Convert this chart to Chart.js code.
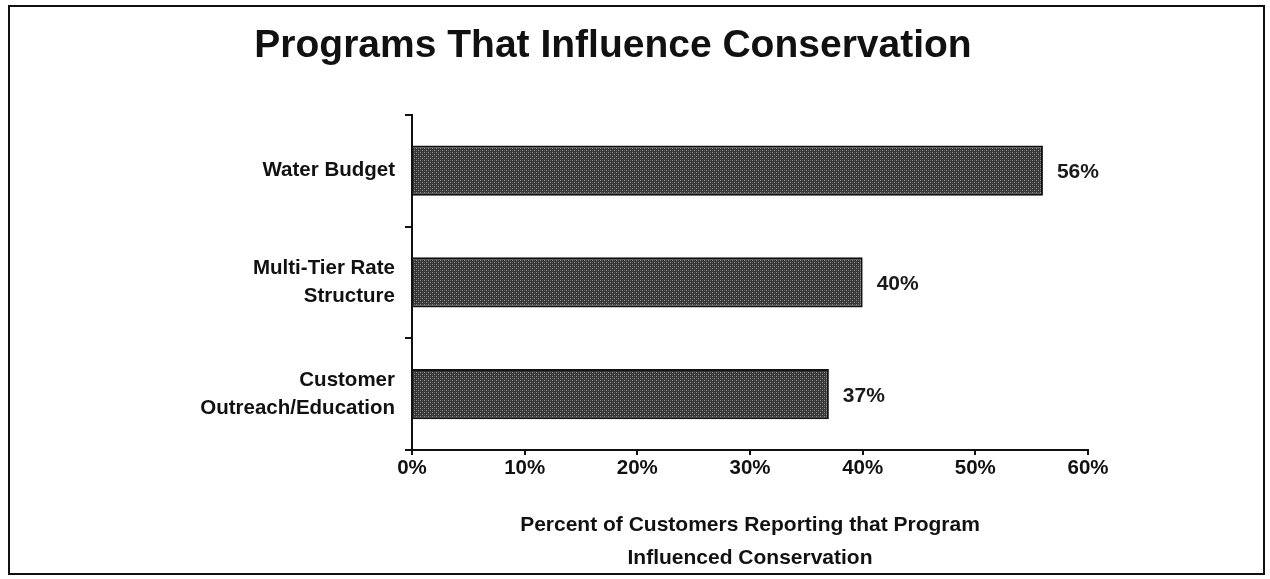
<!DOCTYPE html>
<html>
<head>
<meta charset="utf-8">
<script src="https://cdn.jsdelivr.net/npm/chart.js@4.4.1/dist/chart.umd.min.js"></script>
<style>
  html, body { margin: 0; padding: 0; background: #fff; }
  #wrap { position: relative; width: 1270px; height: 579px; }
  #frame { position: absolute; left: 8px; top: 5px; width: 1253px; height: 566px; border: 2px solid #111; pointer-events: none; }
  canvas { position: absolute; left: 0; top: 0; }
</style>
</head>
<body>
<div id="wrap">
  <canvas id="conservationChart" width="1270" height="579"></canvas>
  <div id="frame"></div>
</div>
<script>
const programs = [['Water Budget'], ['Multi-Tier Rate', 'Structure'], ['Customer', 'Outreach/Education']];
const percentInfluenced = [56, 40, 37];
const xTicks = [0, 10, 20, 30, 40, 50, 60];

const family = 'Arial, "Liberation Sans", sans-serif';
const labelFont = { family, size: 20.5, weight: 'bold' };

// stippled dark grey fill, like the scanned halftone
function stipple() {
  const c = document.createElement('canvas');
  c.width = 4; c.height = 4;
  const g = c.getContext('2d');
  g.fillStyle = '#363636';
  g.fillRect(0, 0, 4, 4);
  g.fillStyle = '#949494';
  g.fillRect(0, 0, 1, 1);
  g.fillRect(2, 2, 1, 1);
  g.fillStyle = '#626262';
  g.fillRect(2, 0, 1, 1);
  g.fillRect(0, 2, 1, 1);
  return g.createPattern(c, 'repeat');
}

const valueLabels = {
  id: 'valueLabels',
  afterDatasetsDraw(chart) {
    const { ctx } = chart;
    const meta = chart.getDatasetMeta(0);
    ctx.save();
    ctx.font = `bold 21px ${family}`;
    ctx.fillStyle = '#1a1a1a';
    ctx.textBaseline = 'middle';
    meta.data.forEach((bar, i) => {
      ctx.fillText(`${percentInfluenced[i]}%`, bar.x + 14, bar.y + 2);
    });
    ctx.restore();
  },
};

const ctx = document.getElementById('conservationChart');
new Chart(ctx, {
  type: 'bar',
  data: {
    labels: programs,
    datasets: [{
      data: percentInfluenced,
      backgroundColor: stipple(),
      borderColor: '#111',
      borderWidth: 2,
      borderSkipped: 'left',
      categoryPercentage: 1,
      barPercentage: 0.45,
    }],
  },
  options: {
    indexAxis: 'y',
    responsive: false,
    animation: false,
    layout: { padding: { left: 138, right: 182, top: 0, bottom: 4 } },
    plugins: {
      legend: { display: false },
      tooltip: { enabled: false },
      title: {
        display: true,
        text: 'Programs That Influence Conservation',
        color: '#111',
        font: { family, size: 39, weight: 'bold', lineHeight: 1.2 },
        padding: { top: 23, bottom: 45 },
      },
    },
    scales: {
      x: {
        min: 0, max: 60,
        afterFit: (scale) => { scale.height = 125; },
        afterBuildTicks: (scale) => { scale.ticks = xTicks.map((v) => ({ value: v })); },
        border: { display: true, color: '#111', width: 2 },
        grid: { drawOnChartArea: false, color: '#111', tickLength: 5, lineWidth: 2 },
        ticks: { color: '#111', font: labelFont, padding: 1, callback: (v) => `${v}%` },
        title: {
          display: true,
          text: ['Percent of Customers Reporting that Program', 'Influenced Conservation'],
          color: '#111',
          font: { family, size: 21, weight: 'bold', lineHeight: 1.55 },
          padding: { top: 0, bottom: 1 },
        },
      },
      y: {
        afterFit: (scale) => { scale.width = 274; },
        border: { display: true, color: '#111', width: 2 },
        grid: { drawOnChartArea: false, offset: true, color: '#111', tickLength: 7, lineWidth: 2 },
        ticks: { color: '#111', font: { ...labelFont, lineHeight: 1.35 }, padding: 10 },
      },
    },
  },
  plugins: [valueLabels],
});
</script>
</body>
</html>
